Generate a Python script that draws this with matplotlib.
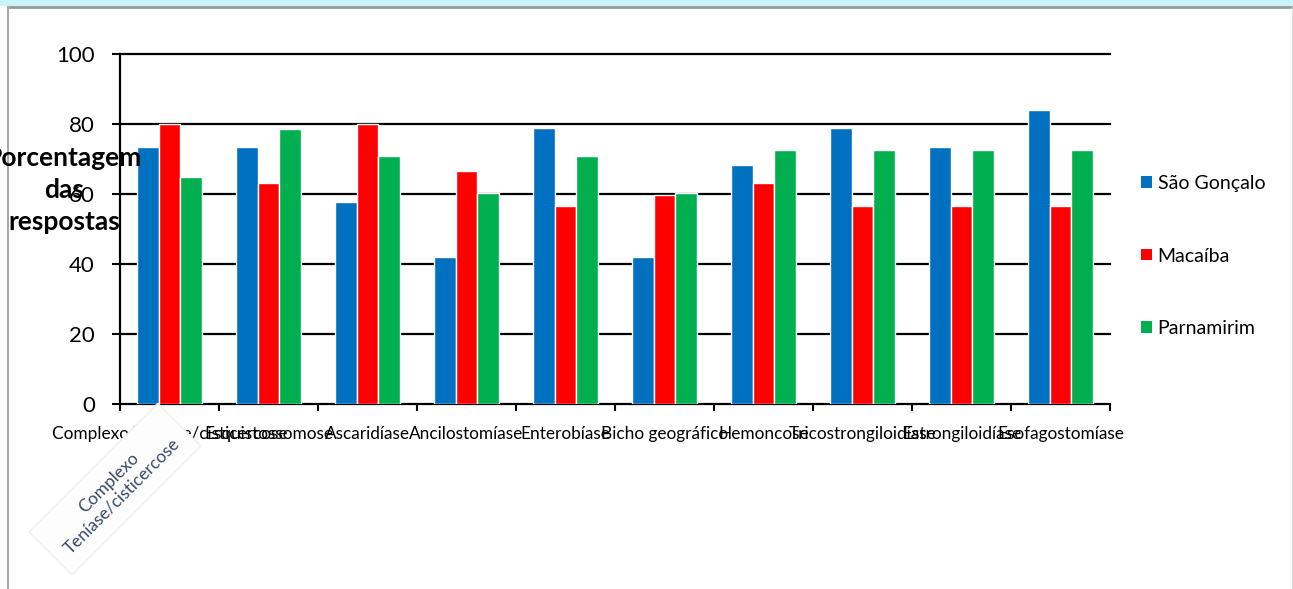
import numpy as np
import matplotlib
matplotlib.use("Agg")
import matplotlib.pyplot as plt
from matplotlib.patches import Patch, Rectangle
from matplotlib.lines import Line2D

plt.rcParams['font.family'] = ['Lato', 'DejaVu Sans']

categorias = ["Complexo Teníase/cisticercose", "Esquistossomose", "Ascaridíase",
              "Ancilostomíase", "Enterobíase", "Bicho geográfico", "Hemoncose",
              "Tricostrongiloidíase", "Estrongiloidíase", "Esofagostomíase"]
sao_goncalo = [73.4, 73.4, 57.7, 41.9, 78.8, 41.9, 68.2, 78.8, 73.4, 84.0]
macaiba = [80.0, 63.1, 80.0, 66.5, 56.5, 59.7, 63.1, 56.5, 56.5, 56.5]
parnamirim = [64.9, 78.6, 70.9, 60.3, 70.9, 60.3, 72.5, 72.5, 72.5, 72.5]
series = ["São Gonçalo", "Macaíba", "Parnamirim"]
cores = ["#0070C0", "#FF0000", "#00B050"]
yticks = [0, 20, 40, 60, 80, 100]

W, H = 1293, 589
fig = plt.figure(figsize=(W / 100, H / 100), dpi=100)
ax = fig.add_axes([120 / W, 1 - 404 / H, 990 / W, 350 / H])

x = np.arange(len(categorias))
larg = 0.22
for k, (vals, cor) in enumerate(zip([sao_goncalo, macaiba, parnamirim], cores)):
    ax.bar(x + (k - 1) * larg, vals, width=larg, color=cor, edgecolor="white",
           linewidth=1, zorder=3)

ax.set_xlim(-0.5, len(categorias) - 0.5)
ax.set_ylim(0, 100)
ax.set_yticks(yticks)
ax.set_yticklabels([str(v) for v in yticks], fontsize=16)
for v in yticks[1:]:
    ax.axhline(v, color="black", lw=1.6, zorder=1, clip_on=False)

ax.set_xticks(x)
ax.set_xticklabels(categorias, fontsize=12.4)
ax.set_xticks(np.arange(-0.5, len(categorias)), minor=True)
ax.tick_params(axis="x", which="major", length=0, pad=16)
ax.tick_params(axis="x", which="minor", length=5, width=1.5, direction="out")
ax.tick_params(axis="y", length=6, width=1.5, direction="out", pad=12)

for s in ["top", "right"]:
    ax.spines[s].set_visible(False)
for s in ["left", "bottom"]:
    ax.spines[s].set_linewidth(1.6)

# rotulo do eixo y (cortado na borda, como no original)
fig.text(64 / W, 1 - 190 / H, "Porcentagem\ndas\nrespostas", ha="center", va="center",
         fontsize=19, fontweight="bold", linespacing=1.38)

# legenda
handles = [Patch(facecolor=c, edgecolor="none") for c in cores]
fig.legend(handles, series, loc="center left", bbox_to_anchor=(1141 / W, 1 - 256 / H),
           frameon=False, fontsize=14, handlelength=0.55, handleheight=0.55,
           handletextpad=0.3, labelspacing=2.85, borderpad=0, borderaxespad=0)

# caixa girada sobre o primeiro rotulo
fig.text(115 / W, 1 - 489 / H, "Complexo\nTeníase/cisticercose", rotation=45,
         rotation_mode="anchor", ha="center", va="center", multialignment="center",
         fontsize=12.5, color="#3a4a6a",
         bbox=dict(boxstyle="square,pad=0.75", fc="#fdfdfd", ec="#eeeeee", lw=1))

# moldura da imagem
fig.patches.append(Rectangle((0, 1 - 6 / H), 1, 6 / H, transform=fig.transFigure,
                             fc="#c9f3fa", ec="none"))
fig.lines.append(Line2D([8 / W, 1], [1 - 7 / H, 1 - 7 / H], transform=fig.transFigure,
                        color="#999999", lw=2))
fig.lines.append(Line2D([8 / W, 8 / W], [0, 1 - 7 / H], transform=fig.transFigure,
                        color="#aaaaaa", lw=1.5))
fig.lines.append(Line2D([1 - 1 / W, 1 - 1 / W], [0, 1 - 7 / H], transform=fig.transFigure,
                        color="#dddddd", lw=1))

fig.savefig("out.png", dpi=100)
